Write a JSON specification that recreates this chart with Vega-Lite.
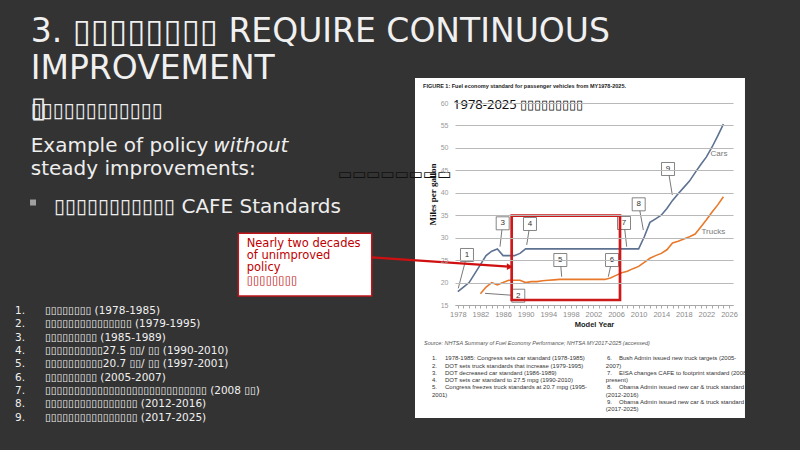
{
  "$schema": "https://vega.github.io/schema/vega-lite/v6.json",
  "width": 278,
  "height": 202,
  "autosize": {"type": "none"},
  "padding": {"left": 455, "top": 103, "right": 67, "bottom": 145},
  "background": "#333333",
  "config": {"view": {"stroke": null}},
  "title": {
    "text": ["3. ▯▯▯▯▯▯▯▯ REQUIRE CONTINUOUS", "IMPROVEMENT"],
    "anchor": "start",
    "frame": "group",
    "font": "DejaVu Sans",
    "fontSize": 33,
    "fontWeight": "normal",
    "color": "#f0f0f0",
    "lineHeight": 36.6,
    "dx": -424.3,
    "offset": -8
  },
  "datasets": {
    "standards": [
      {"vehicle": "Cars", "year": 1978, "mpg": 18.0},
      {"vehicle": "Cars", "year": 1979, "mpg": 19.0},
      {"vehicle": "Cars", "year": 1980, "mpg": 20.0},
      {"vehicle": "Cars", "year": 1981, "mpg": 22.0},
      {"vehicle": "Cars", "year": 1982, "mpg": 24.0},
      {"vehicle": "Cars", "year": 1983, "mpg": 26.0},
      {"vehicle": "Cars", "year": 1984, "mpg": 27.0},
      {"vehicle": "Cars", "year": 1985, "mpg": 27.5},
      {"vehicle": "Cars", "year": 1986, "mpg": 26.0},
      {"vehicle": "Cars", "year": 1987, "mpg": 26.0},
      {"vehicle": "Cars", "year": 1988, "mpg": 26.0},
      {"vehicle": "Cars", "year": 1989, "mpg": 26.5},
      {"vehicle": "Cars", "year": 1990, "mpg": 27.5},
      {"vehicle": "Cars", "year": 1991, "mpg": 27.5},
      {"vehicle": "Cars", "year": 1992, "mpg": 27.5},
      {"vehicle": "Cars", "year": 1993, "mpg": 27.5},
      {"vehicle": "Cars", "year": 1994, "mpg": 27.5},
      {"vehicle": "Cars", "year": 1995, "mpg": 27.5},
      {"vehicle": "Cars", "year": 1996, "mpg": 27.5},
      {"vehicle": "Cars", "year": 1997, "mpg": 27.5},
      {"vehicle": "Cars", "year": 1998, "mpg": 27.5},
      {"vehicle": "Cars", "year": 1999, "mpg": 27.5},
      {"vehicle": "Cars", "year": 2000, "mpg": 27.5},
      {"vehicle": "Cars", "year": 2001, "mpg": 27.5},
      {"vehicle": "Cars", "year": 2002, "mpg": 27.5},
      {"vehicle": "Cars", "year": 2003, "mpg": 27.5},
      {"vehicle": "Cars", "year": 2004, "mpg": 27.5},
      {"vehicle": "Cars", "year": 2005, "mpg": 27.5},
      {"vehicle": "Cars", "year": 2006, "mpg": 27.5},
      {"vehicle": "Cars", "year": 2007, "mpg": 27.5},
      {"vehicle": "Cars", "year": 2008, "mpg": 27.5},
      {"vehicle": "Cars", "year": 2009, "mpg": 27.5},
      {"vehicle": "Cars", "year": 2010, "mpg": 27.5},
      {"vehicle": "Cars", "year": 2011, "mpg": 30.2},
      {"vehicle": "Cars", "year": 2012, "mpg": 33.4},
      {"vehicle": "Cars", "year": 2013, "mpg": 34.2},
      {"vehicle": "Cars", "year": 2014, "mpg": 35.0},
      {"vehicle": "Cars", "year": 2015, "mpg": 36.5},
      {"vehicle": "Cars", "year": 2016, "mpg": 38.3},
      {"vehicle": "Cars", "year": 2017, "mpg": 39.8},
      {"vehicle": "Cars", "year": 2018, "mpg": 41.2},
      {"vehicle": "Cars", "year": 2019, "mpg": 42.6},
      {"vehicle": "Cars", "year": 2020, "mpg": 44.5},
      {"vehicle": "Cars", "year": 2021, "mpg": 46.3},
      {"vehicle": "Cars", "year": 2022, "mpg": 48.0},
      {"vehicle": "Cars", "year": 2023, "mpg": 50.2},
      {"vehicle": "Cars", "year": 2024, "mpg": 52.7},
      {"vehicle": "Cars", "year": 2025, "mpg": 55.3},
      {"vehicle": "Trucks", "year": 1982, "mpg": 17.5},
      {"vehicle": "Trucks", "year": 1983, "mpg": 19.0},
      {"vehicle": "Trucks", "year": 1984, "mpg": 20.0},
      {"vehicle": "Trucks", "year": 1985, "mpg": 19.5},
      {"vehicle": "Trucks", "year": 1986, "mpg": 20.0},
      {"vehicle": "Trucks", "year": 1987, "mpg": 20.5},
      {"vehicle": "Trucks", "year": 1988, "mpg": 20.5},
      {"vehicle": "Trucks", "year": 1989, "mpg": 20.5},
      {"vehicle": "Trucks", "year": 1990, "mpg": 20.0},
      {"vehicle": "Trucks", "year": 1991, "mpg": 20.2},
      {"vehicle": "Trucks", "year": 1992, "mpg": 20.2},
      {"vehicle": "Trucks", "year": 1993, "mpg": 20.4},
      {"vehicle": "Trucks", "year": 1994, "mpg": 20.5},
      {"vehicle": "Trucks", "year": 1995, "mpg": 20.6},
      {"vehicle": "Trucks", "year": 1996, "mpg": 20.7},
      {"vehicle": "Trucks", "year": 1997, "mpg": 20.7},
      {"vehicle": "Trucks", "year": 1998, "mpg": 20.7},
      {"vehicle": "Trucks", "year": 1999, "mpg": 20.7},
      {"vehicle": "Trucks", "year": 2000, "mpg": 20.7},
      {"vehicle": "Trucks", "year": 2001, "mpg": 20.7},
      {"vehicle": "Trucks", "year": 2002, "mpg": 20.7},
      {"vehicle": "Trucks", "year": 2003, "mpg": 20.7},
      {"vehicle": "Trucks", "year": 2004, "mpg": 20.7},
      {"vehicle": "Trucks", "year": 2005, "mpg": 21.0},
      {"vehicle": "Trucks", "year": 2006, "mpg": 21.6},
      {"vehicle": "Trucks", "year": 2007, "mpg": 22.2},
      {"vehicle": "Trucks", "year": 2008, "mpg": 22.5},
      {"vehicle": "Trucks", "year": 2009, "mpg": 23.1},
      {"vehicle": "Trucks", "year": 2010, "mpg": 23.6},
      {"vehicle": "Trucks", "year": 2011, "mpg": 24.5},
      {"vehicle": "Trucks", "year": 2012, "mpg": 25.4},
      {"vehicle": "Trucks", "year": 2013, "mpg": 26.0},
      {"vehicle": "Trucks", "year": 2014, "mpg": 26.5},
      {"vehicle": "Trucks", "year": 2015, "mpg": 27.3},
      {"vehicle": "Trucks", "year": 2016, "mpg": 28.8},
      {"vehicle": "Trucks", "year": 2017, "mpg": 29.2},
      {"vehicle": "Trucks", "year": 2018, "mpg": 29.7},
      {"vehicle": "Trucks", "year": 2019, "mpg": 30.2},
      {"vehicle": "Trucks", "year": 2020, "mpg": 30.8},
      {"vehicle": "Trucks", "year": 2021, "mpg": 32.4},
      {"vehicle": "Trucks", "year": 2022, "mpg": 34.0},
      {"vehicle": "Trucks", "year": 2023, "mpg": 35.7},
      {"vehicle": "Trucks", "year": 2024, "mpg": 37.3},
      {"vehicle": "Trucks", "year": 2025, "mpg": 39.1}
    ],
    "figure_panel": [{"year": 1970.42, "year2": 2028.82, "mpg": 65.57, "mpg2": -10.17}],
    "caption": [{"year": 1971.84, "mpg": 63.34, "text": "FIGURE 1: Fuel economy standard for passenger vehicles from MY1978-2025."}],
    "figure_title": [{"year": 1977.15, "mpg": 58.66, "text": "1978-2025 ▯▯▯▯▯▯▯▯▯"}],
    "source": [{"year": 1972.01, "mpg": 6.09, "text": "Source: NHTSA Summary of Fuel Economy Performance; NHTSA MY2017-2025 (accessed)"}],
    "notes": [
      {"year": 1973.43, "mpg": 2.68, "text": "1."},
      {"year": 1975.73, "mpg": 2.68, "text": "1978-1985: Congress sets car standard (1978-1985)"},
      {"year": 1973.43, "mpg": 1.05, "text": "2."},
      {"year": 1975.73, "mpg": 1.05, "text": "DOT sets truck standards that increase (1979-1995)"},
      {"year": 1973.43, "mpg": -0.57, "text": "3."},
      {"year": 1975.73, "mpg": -0.57, "text": "DOT decreased car standard (1986-1989)"},
      {"year": 1973.43, "mpg": -2.2, "text": "4."},
      {"year": 1975.73, "mpg": -2.2, "text": "DOT sets car standard to 27.5 mpg (1990-2010)"},
      {"year": 1973.43, "mpg": -3.82, "text": "5."},
      {"year": 1975.73, "mpg": -3.82, "text": "Congress freezes truck standards at 20.7 mpg (1995-"},
      {"year": 1973.43, "mpg": -5.45, "text": "2001)"},
      {"year": 2004.4, "mpg": 2.68, "text": "6."},
      {"year": 2006.52, "mpg": 2.68, "text": "Bush Admin issued new truck targets (2005-"},
      {"year": 2004.2, "mpg": 1.05, "text": "2007)"},
      {"year": 2004.4, "mpg": -0.57, "text": "7."},
      {"year": 2006.52, "mpg": -0.57, "text": "EISA changes CAFE to footprint standard (2008-"},
      {"year": 2004.2, "mpg": -2.2, "text": "present)"},
      {"year": 2004.4, "mpg": -3.82, "text": "8."},
      {"year": 2006.52, "mpg": -3.82, "text": "Obama Admin issued new car & truck standard"},
      {"year": 2004.2, "mpg": -5.45, "text": "(2012-2016)"},
      {"year": 2004.4, "mpg": -7.08, "text": "9."},
      {"year": 2006.52, "mpg": -7.08, "text": "Obama Admin issued new car & truck standard"},
      {"year": 2004.2, "mpg": -8.7, "text": "(2017-2025)"}
    ],
    "callouts": [
      {"n": "1", "year": 1979.62, "mpg": 26.14, "year2": 1978.08, "mpg2": 18.72},
      {"n": "2", "year": 1988.7, "mpg": 17.07, "year2": 1982.81, "mpg2": 17.6},
      {"n": "3", "year": 1985.94, "mpg": 33.2, "year2": 1985.46, "mpg2": 27.99},
      {"n": "4", "year": 1990.77, "mpg": 33.05, "year2": 1990.19, "mpg2": 28.37},
      {"n": "5", "year": 1996.14, "mpg": 25.02, "year2": 1996.38, "mpg2": 21.3},
      {"n": "6", "year": 2005.29, "mpg": 25.02, "year2": 2004.63, "mpg2": 21.3},
      {"n": "7", "year": 2007.41, "mpg": 33.27, "year2": 2007.89, "mpg2": 27.99},
      {"n": "8", "year": 2010.01, "mpg": 37.43, "year2": 2010.83, "mpg2": 31.71},
      {"n": "9", "year": 2015.2, "mpg": 45.3, "year2": 2015.96, "mpg2": 39.5}
    ],
    "series_labels": [
      {"text": "Cars", "year": 2024.21, "mpg": 48.57},
      {"text": "Trucks", "year": 2023.21, "mpg": 31.33}
    ],
    "focus_period": [{"year": 1987.53, "year2": 2006.7, "mpg": 34.89, "mpg2": 16.11}],
    "note_box": [{"year": 1939.15, "year2": 1962.76, "mpg": 30.97, "mpg2": 17.0}],
    "note_text": [
      {"year": 1940.63, "mpg": 27.99, "text": "Nearly two decades"},
      {"year": 1940.63, "mpg": 25.31, "text": "of unimproved"},
      {"year": 1940.63, "mpg": 22.64, "text": "policy"},
      {"year": 1940.63, "mpg": 19.6, "text": "▯▯▯▯▯▯▯▯"}
    ],
    "note_arrow": [{"year": 1962.76, "mpg": 25.63, "year2": 1987.0, "mpg2": 23.55}],
    "arrow_head": [{"year": 1987.2, "mpg": 23.53}],
    "axis_overlay": [{"year": 1956.79, "mpg": 44.18, "text": "▭▭▭▭▭▭▭▭"}],
    "slide_body": [
      {"year": 1902.41, "mpg": 56.88, "text": "▯▯▯▯▯▯▯▯▯▯▯▯"},
      {"year": 1902.41, "mpg": 49.15, "text": "Example of policy"},
      {"year": 1902.41, "mpg": 43.96, "text": "steady improvements:"},
      {"year": 1906.53, "mpg": 35.43, "text": "▯▯▯▯▯▯▯▯▯▯▯ CAFE Standards"}
    ],
    "slide_italic": [{"year": 1934.72, "mpg": 49.15, "text": "without"}],
    "slide_glyph": [{"year": 1902.41, "mpg": 56.88, "text": "▯"}],
    "slide_bullet": [{"year": 1902.82, "mpg": 37.83}],
    "slide_list": [
      {"year": 1899.63, "mpg": 12.995, "text": "1."},
      {"year": 1904.94, "mpg": 12.995, "text": "▯▯▯▯▯▯▯▯ (1978-1985)"},
      {"year": 1899.63, "mpg": 10.025, "text": "2."},
      {"year": 1904.94, "mpg": 10.025, "text": "▯▯▯▯▯▯▯▯▯▯▯▯▯▯▯ (1979-1995)"},
      {"year": 1899.63, "mpg": 7.054, "text": "3."},
      {"year": 1904.94, "mpg": 7.054, "text": "▯▯▯▯▯▯▯▯▯ (1985-1989)"},
      {"year": 1899.63, "mpg": 4.084, "text": "4."},
      {"year": 1904.94, "mpg": 4.084, "text": "▯▯▯▯▯▯▯▯▯▯27.5 ▯▯/ ▯▯ (1990-2010)"},
      {"year": 1899.63, "mpg": 1.114, "text": "5."},
      {"year": 1904.94, "mpg": 1.114, "text": "▯▯▯▯▯▯▯▯▯▯20.7 ▯▯/ ▯▯ (1997-2001)"},
      {"year": 1899.63, "mpg": -1.857, "text": "6."},
      {"year": 1904.94, "mpg": -1.857, "text": "▯▯▯▯▯▯▯▯▯ (2005-2007)"},
      {"year": 1899.63, "mpg": -4.827, "text": "7."},
      {"year": 1904.94, "mpg": -4.827, "text": "▯▯▯▯▯▯▯▯▯▯▯▯▯▯▯▯▯▯▯▯▯▯▯▯▯▯▯▯ (2008 ▯▯)"},
      {"year": 1899.63, "mpg": -7.797, "text": "8."},
      {"year": 1904.94, "mpg": -7.797, "text": "▯▯▯▯▯▯▯▯▯▯▯▯▯▯▯▯ (2012-2016)"},
      {"year": 1899.63, "mpg": -10.768, "text": "9."},
      {"year": 1904.94, "mpg": -10.768, "text": "▯▯▯▯▯▯▯▯▯▯▯▯▯▯▯▯ (2017-2025)"}
    ]
  },
  "layer": [
    {
      "data": {"name": "figure_panel"},
      "mark": {"type": "rect", "fill": "#ffffff"},
      "encoding": {
        "x": {"field": "year", "type": "quantitative",
          "scale": {"domain": [1977.5, 2026.7], "nice": false, "zero": false},
          "axis": {
            "title": "Model Year",
            "values": [1978,1979,1980,1981,1982,1983,1984,1985,1986,1987,1988,1989,1990,1991,1992,1993,1994,1995,1996,1997,1998,1999,2000,2001,2002,2003,2004,2005,2006,2007,2008,2009,2010,2011,2012,2013,2014,2015,2016,2017,2018,2019,2020,2021,2022,2023,2024,2025,2026],
            "tickCount": 100,
            "labelExpr": "(datum.value - 1978) % 4 === 0 ? format(datum.value, 'd') : ''",
            "labelOverlap": false,
            "labelFlush": false,
            "grid": false,
            "domainColor": "#a8a8a8",
            "tickColor": "#a8a8a8",
            "tickSize": 3,
            "labelFont": "Liberation Sans",
            "labelFontSize": 7.5,
            "labelColor": "#8a8a8a",
            "labelPadding": 2,
            "titleFont": "Liberation Sans",
            "titleFontWeight": "bold",
            "titleFontSize": 7.5,
            "titleColor": "#222222",
            "titlePadding": 3,
            "zindex": 1
          }
        },
        "x2": {"field": "year2"},
        "y": {"field": "mpg", "type": "quantitative",
          "scale": {"domain": [15, 60], "nice": false, "zero": false},
          "axis": {
            "title": "Miles per gallon",
            "values": [15, 20, 25, 30, 35, 40, 45, 50, 55, 60],
            "tickCount": 30,
            "labelOverlap": false,
            "grid": true,
            "gridColor": "#b9b9b9",
            "gridWidth": 1,
            "domain": false,
            "ticks": false,
            "labelPadding": 7,
            "labelFont": "Liberation Sans",
            "labelFontSize": 7,
            "labelColor": "#9a9a9a",
            "titleFont": "Liberation Serif",
            "titleFontWeight": "bold",
            "titleFontSize": 9,
            "titleColor": "#111111",
            "titleAngle": 270,
            "titleAlign": "center",
            "titleBaseline": "bottom",
            "titleX": -17.5,
            "titleY": 91,
            "zindex": 1
          }
        },
        "y2": {"field": "mpg2"}
      }
    },
    {
      "data": {"name": "caption"},
      "mark": {"type": "text", "align": "left", "baseline": "alphabetic", "font": "Liberation Sans", "fontWeight": "bold", "fontSize": 5.5, "color": "#222222"},
      "encoding": {"x": {"field": "year", "type": "quantitative"}, "y": {"field": "mpg", "type": "quantitative"}, "text": {"field": "text"}}
    },
    {
      "data": {"name": "figure_title"},
      "mark": {"type": "text", "align": "left", "baseline": "alphabetic", "font": "Noto Sans", "fontSize": 13, "color": "#111111"},
      "encoding": {"x": {"field": "year", "type": "quantitative"}, "y": {"field": "mpg", "type": "quantitative"}, "text": {"field": "text"}}
    },
    {
      "data": {"name": "source"},
      "mark": {"type": "text", "align": "left", "baseline": "alphabetic", "font": "Liberation Sans", "fontStyle": "italic", "fontSize": 5.5, "color": "#555555"},
      "encoding": {"x": {"field": "year", "type": "quantitative"}, "y": {"field": "mpg", "type": "quantitative"}, "text": {"field": "text"}}
    },
    {
      "data": {"name": "notes"},
      "mark": {"type": "text", "align": "left", "baseline": "alphabetic", "font": "Liberation Sans", "fontSize": 6, "color": "#333333"},
      "encoding": {"x": {"field": "year", "type": "quantitative"}, "y": {"field": "mpg", "type": "quantitative"}, "text": {"field": "text"}}
    },
    {
      "data": {"name": "standards"},
      "mark": {"type": "line", "strokeWidth": 1.6},
      "encoding": {
        "x": {"field": "year", "type": "quantitative"},
        "y": {"field": "mpg", "type": "quantitative"},
        "color": {"field": "vehicle", "type": "nominal", "scale": {"domain": ["Cars", "Trucks"], "range": ["#5d7191", "#e8792b"]}, "legend": null}
      }
    },
    {
      "data": {"name": "callouts"},
      "mark": {"type": "rule", "color": "#555555", "strokeWidth": 0.8},
      "encoding": {"x": {"field": "year", "type": "quantitative"}, "y": {"field": "mpg", "type": "quantitative"}, "x2": {"field": "year2"}, "y2": {"field": "mpg2"}}
    },
    {
      "data": {"name": "callouts"},
      "mark": {"type": "point", "shape": "square", "size": 169, "filled": true, "fill": "#ffffff", "stroke": "#666666", "strokeWidth": 0.8, "opacity": 1},
      "encoding": {"x": {"field": "year", "type": "quantitative"}, "y": {"field": "mpg", "type": "quantitative"}}
    },
    {
      "data": {"name": "callouts"},
      "mark": {"type": "text", "font": "Liberation Sans", "fontSize": 8, "color": "#333333", "align": "center", "baseline": "middle"},
      "encoding": {"x": {"field": "year", "type": "quantitative"}, "y": {"field": "mpg", "type": "quantitative"}, "text": {"field": "n"}}
    },
    {
      "data": {"name": "series_labels"},
      "mark": {"type": "text", "font": "Liberation Sans", "fontSize": 8, "color": "#777777", "align": "center", "baseline": "middle"},
      "encoding": {"x": {"field": "year", "type": "quantitative"}, "y": {"field": "mpg", "type": "quantitative"}, "text": {"field": "text"}}
    },
    {
      "data": {"name": "focus_period"},
      "mark": {"type": "rect", "filled": false, "stroke": "#cc1a1a", "strokeWidth": 2.7},
      "encoding": {"x": {"field": "year", "type": "quantitative"}, "x2": {"field": "year2"}, "y": {"field": "mpg", "type": "quantitative"}, "y2": {"field": "mpg2"}}
    },
    {
      "data": {"name": "note_box"},
      "mark": {"type": "rect", "fill": "#ffffff", "stroke": "#c0141c", "strokeWidth": 1.5},
      "encoding": {"x": {"field": "year", "type": "quantitative"}, "x2": {"field": "year2"}, "y": {"field": "mpg", "type": "quantitative"}, "y2": {"field": "mpg2"}}
    },
    {
      "data": {"name": "note_text"},
      "mark": {"type": "text", "align": "left", "baseline": "alphabetic", "font": "DejaVu Sans", "fontSize": 11.5, "color": "#c00000"},
      "encoding": {"x": {"field": "year", "type": "quantitative"}, "y": {"field": "mpg", "type": "quantitative"}, "text": {"field": "text"}}
    },
    {
      "data": {"name": "note_arrow"},
      "mark": {"type": "rule", "color": "#d01010", "strokeWidth": 2.2},
      "encoding": {"x": {"field": "year", "type": "quantitative"}, "y": {"field": "mpg", "type": "quantitative"}, "x2": {"field": "year2"}, "y2": {"field": "mpg2"}}
    },
    {
      "data": {"name": "arrow_head"},
      "mark": {"type": "point", "shape": "triangle-right", "size": 45, "filled": true, "color": "#d01010", "opacity": 1},
      "encoding": {"x": {"field": "year", "type": "quantitative"}, "y": {"field": "mpg", "type": "quantitative"}}
    },
    {
      "data": {"name": "axis_overlay"},
      "mark": {"type": "text", "align": "left", "baseline": "middle", "font": "DejaVu Sans", "fontSize": 15, "color": "#111111"},
      "encoding": {"x": {"field": "year", "type": "quantitative"}, "y": {"field": "mpg", "type": "quantitative"}, "text": {"field": "text"}}
    },
    {
      "data": {"name": "slide_body"},
      "mark": {"type": "text", "align": "left", "baseline": "alphabetic", "font": "DejaVu Sans", "fontSize": 20, "color": "#eeeeee"},
      "encoding": {"x": {"field": "year", "type": "quantitative"}, "y": {"field": "mpg", "type": "quantitative"}, "text": {"field": "text"}}
    },
    {
      "data": {"name": "slide_italic"},
      "mark": {"type": "text", "align": "left", "baseline": "alphabetic", "font": "DejaVu Sans", "fontStyle": "italic", "fontSize": 20, "color": "#eeeeee"},
      "encoding": {"x": {"field": "year", "type": "quantitative"}, "y": {"field": "mpg", "type": "quantitative"}, "text": {"field": "text"}}
    },
    {
      "data": {"name": "slide_glyph"},
      "mark": {"type": "text", "align": "left", "baseline": "alphabetic", "font": "DejaVu Sans", "fontSize": 29, "color": "#eeeeee"},
      "encoding": {"x": {"field": "year", "type": "quantitative"}, "y": {"field": "mpg", "type": "quantitative"}, "text": {"field": "text"}}
    },
    {
      "data": {"name": "slide_bullet"},
      "mark": {"type": "point", "shape": "square", "size": 36, "filled": true, "color": "#a0a0a0", "opacity": 1},
      "encoding": {"x": {"field": "year", "type": "quantitative"}, "y": {"field": "mpg", "type": "quantitative"}}
    },
    {
      "data": {"name": "slide_list"},
      "mark": {"type": "text", "align": "left", "baseline": "alphabetic", "font": "DejaVu Sans", "fontSize": 10.5, "color": "#f0f0f0"},
      "encoding": {"x": {"field": "year", "type": "quantitative"}, "y": {"field": "mpg", "type": "quantitative"}, "text": {"field": "text"}}
    }
  ]
}
